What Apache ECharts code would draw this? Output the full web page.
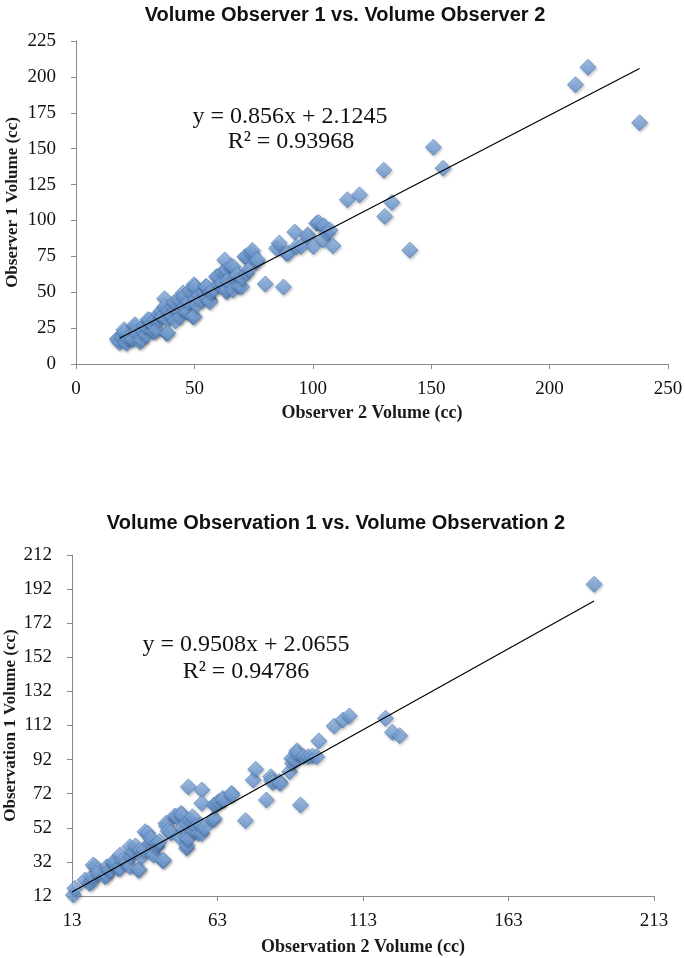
<!DOCTYPE html>
<html>
<head>
<meta charset="utf-8">
<script src="https://cdn.jsdelivr.net/npm/echarts@6/dist/echarts.min.js"></script>
<style>
html,body{margin:0;padding:0;background:#fff;}
#chart{width:685px;height:958px;}
</style>
</head>
<body>
<div id="chart"></div>
<script>
// ---------- Data ----------
var titleTop = 'Volume Observer 1 vs. Volume Observer 2';
var titleBottom = 'Volume Observation 1 vs. Volume Observation 2';
var xNameTop = 'Observer 2 Volume (cc)';
var yNameTop = 'Observer 1 Volume (cc)';
var xNameBottom = 'Observation 2 Volume (cc)';
var yNameBottom = 'Observation 1 Volume (cc)';
var eqTop = ['y = 0.856x + 2.1245', 'R\u00B2 = 0.93968'];
var eqBottom = ['y = 0.9508x + 2.0655', 'R\u00B2 = 0.94786'];

var xTicksTop = {min: 0, max: 250, interval: 50};
var yTicksTop = {min: 0, max: 225, interval: 25};
var xTicksBottom = {min: 13, max: 213, interval: 50};
var yTicksBottom = {min: 12, max: 212, interval: 20};

// [Observer 2 volume, Observer 1 volume]
var observerPoints = [
[17.5,17.6],[17.7,16.7],[18.5,15],[19.5,19],[20.3,23.9],[20.5,22],[21.2,15.8],[21.3,14.4],[22,18],[23,20],
[24,17],[24.8,26],[24.9,27.4],[25.5,22],[26.9,15.5],[27.7,16.9],[28,24],[29.7,20.2],[29,27],[30.4,30.9],
[31.1,30.6],[32.3,22.7],[32,28],[33.2,22.5],[33.5,31],[34.1,23.9],[35.3,30.6],[35,35],[36,36.7],[36.5,33],
[37.4,45.5],[37.5,40],[38.2,21.4],[38.7,30.9],[38.7,21.6],[39,37],[40,34],[41,39.9],[41.5,43],[42,30],
[43.4,44.8],[43.8,36.4],[44,33],[45.2,49.4],[45.2,37.8],[45.5,47],[46,40],[47,36],[47.5,43],[48,51],
[49.4,32.9],[49.8,55.2],[49.8,33.2],[50.1,53.8],[50.5,45],[51,41],[52.2,48],[53,44],[54,50],[54.8,54],
[55.1,53.8],[55.5,46],[56.3,44.8],[56.5,43.4],[57,50],[58,52],[59.3,60.8],[60,61],[60.5,55],[61.8,56.4],
[62,64],[62.8,72.4],[63.5,65.5],[63.5,50.3],[63.7,51.7],[64,58],[65.5,68],[66.3,67.8],[66.3,51.5],[67.3,59.8],
[68,62],[68.8,54],[69.9,53.8],[70,60],[71.3,74.7],[72,63.2],[72,74.9],[73,66],[74.1,77.1],[74.4,79.1],
[76.2,71.2],[76.6,72.6],[79.9,55.7],[84.7,80.7],[85.8,84.2],[87.6,53.6],[88.9,77.1],[89.5,77.2],[92.4,91.9],[93.1,81.7],
[95,81.9],[97.8,90],[98,88.6],[100.2,81.9],[101.6,98],[102.4,98.6],[104.4,95.6],[104.6,96.3],[104.4,86.4],[106.1,91.2],
[107.2,93.3],[108.5,82.3],[114.6,114.4],[119.7,117.8],[130,135],[130.4,102.8],[133.4,112.5],[141,79.3],[150.9,151],[155,136.4],
[210.9,194.6],[216.2,206.7],[238,168]
];
var observerTrend = [[18.4,17.9],[238,205.9]];

// [Observation 2 volume, Observation 1 volume]
var observationPoints = [
[12.2,15.5],[13.5,12.6],[12.9,13.6],[14,16.5],[17.5,21.4],[19,19.4],[19.8,20.4],[19.8,23.3],[20.3,30.2],[21,29],
[22,27.2],[22,25.3],[24.3,23.3],[24.9,24.3],[25,29.2],[26,27],[27.2,31.2],[27.3,32.1],[28.8,28.2],[29.5,28.2],
[29.5,36],[30.5,33],[31.8,32.1],[32.9,29.2],[32.9,40.9],[33.3,35.1],[34,38],[34.8,41.3],[35.8,27.2],[36,27.6],
[36.4,39],[37,35],[37.8,39],[38.1,49.7],[39,48.8],[39.8,42.9],[40,45.8],[40.5,38],[41,36],[42.1,40.9],
[42.3,42.9],[43,44],[44.2,32.7],[44.4,33.1],[45.3,54.6],[45.5,53],[46,50],[47,49],[48.3,58.9],[49,58.5],
[49.8,46.8],[50.5,60.5],[50.7,59.5],[51,52],[52.4,40],[52.5,41.5],[52.4,46.8],[52.8,45.5],[52.8,53.6],[53,76],
[53.5,56.6],[54.4,58.5],[55,50],[55.8,52.6],[56.5,48.8],[57.3,53.6],[57.6,48.7],[57.6,74.2],[57.6,66.4],[58.5,52],
[61.5,56.6],[61.8,57.6],[61.8,65.4],[62.7,65.4],[63.3,67.3],[64.8,69.3],[65,68.3],[67.8,72.2],[67.9,71.2],[72.6,56.2],
[75.3,80],[76.1,86.3],[79.8,68.3],[81.3,82],[81.6,80],[82,78.5],[84.3,79.1],[84.5,78.1],[87.8,84.9],[88.5,92.7],
[88.8,89.8],[89.6,91.8],[90.3,97.2],[90.2,96],[91.5,65.4],[92.6,93.7],[94.2,93.7],[95.6,94.1],[97.1,93.7],[97.8,102.9],
[103.1,111.7],[106.1,115.2],[108.3,117.6],[120.7,116.2],[123.1,108],[125.6,106],[192.4,194.8]
];
var observationTrend = [[13,14.4],[192.4,185]];

// ---------- Styles ----------
var serif = '"Liberation Serif", "DejaVu Serif", serif';
var sans = '"Liberation Sans", Arial, sans-serif';
var axisGray = '#8a8a8a';

var markerStyle = {
  color: new echarts.graphic.LinearGradient(0, 0, 0, 1, [
    {offset: 0, color: '#98BBE6'},
    {offset: 1, color: '#5E90D0'}
  ]),
  borderColor: '#4A7BBA',
  borderWidth: 0.8,
  shadowBlur: 3,
  shadowOffsetX: 1,
  shadowOffsetY: 1.5,
  shadowColor: 'rgba(0,0,0,0.3)'
};

function xAxisCfg(idx, ticks, name, gap, labelMargin) {
  return {
    type: 'value', gridIndex: idx,
    min: ticks.min, max: ticks.max, interval: ticks.interval,
    name: name, nameLocation: 'middle', nameGap: gap, nameMoveOverlap: false,
    nameTextStyle: {fontFamily: serif, fontWeight: 'bold', fontSize: 18, color: '#1a1a1a'},
    axisLine: {show: true, lineStyle: {color: axisGray, width: 1}},
    axisTick: {show: true, length: 5, lineStyle: {color: axisGray}},
    axisLabel: {fontFamily: serif, fontSize: 19, color: '#111', margin: labelMargin},
    splitLine: {show: false}
  };
}
function yAxisCfg(idx, ticks, name, gap, labelMargin) {
  return {
    type: 'value', gridIndex: idx,
    min: ticks.min, max: ticks.max, interval: ticks.interval,
    name: name, nameLocation: 'middle', nameGap: gap, nameRotate: 90, nameMoveOverlap: false,
    nameTextStyle: {fontFamily: serif, fontWeight: 'bold', fontSize: 17, color: '#1a1a1a'},
    axisLine: {show: true, lineStyle: {color: axisGray, width: 1}},
    axisTick: {show: true, length: 5, lineStyle: {color: axisGray}},
    axisLabel: {fontFamily: serif, fontSize: 19, color: '#111', margin: labelMargin},
    splitLine: {show: false}
  };
}

function eqText(x, y, txt) {
  return {type: 'text', x: x, y: y, z: 10,
    style: {text: txt, font: '24px ' + serif, fill: '#111', align: 'center', verticalAlign: 'middle'}};
}

var chart = echarts.init(document.getElementById('chart'), null, {renderer: 'canvas'});
var option = {
  backgroundColor: '#ffffff',
  animation: false,
  title: [
    {text: titleTop, left: 340, top: 0, textAlign: 'center',
     textStyle: {fontFamily: sans, fontWeight: 'bold', fontSize: 20, color: '#111'}},
    {text: titleBottom, left: 331, top: 508, textAlign: 'center',
     textStyle: {fontFamily: sans, fontWeight: 'bold', fontSize: 20, color: '#111'}}
  ],
  grid: [
    {left: 76, right: 17, top: 41, height: 323, containLabel: false, outerBoundsMode: 'none'},
    {left: 72, right: 31, top: 555, height: 341, containLabel: false, outerBoundsMode: 'none'}
  ],
  xAxis: [
    xAxisCfg(0, xTicksTop, xNameTop, 40, 16),
    xAxisCfg(1, xTicksBottom, xNameBottom, 42, 16)
  ],
  yAxis: [
    yAxisCfg(0, yTicksTop, yNameTop, 55, 20),
    yAxisCfg(1, yTicksBottom, yNameBottom, 53, 20)
  ],
  graphic: [
    eqText(290, 117, eqTop[0]),
    eqText(291, 142, eqTop[1]),
    eqText(246, 645, eqBottom[0]),
    eqText(246, 672, eqBottom[1])
  ],
  series: [
    {type: 'scatter', xAxisIndex: 0, yAxisIndex: 0, symbol: 'diamond', symbolSize: 16,
     itemStyle: markerStyle, data: observerPoints, z: 2},
    {type: 'line', xAxisIndex: 0, yAxisIndex: 0, data: observerTrend, symbol: 'none',
     lineStyle: {color: '#000', width: 1.2}, z: 3, silent: true},
    {type: 'scatter', xAxisIndex: 1, yAxisIndex: 1, symbol: 'diamond', symbolSize: 16,
     itemStyle: markerStyle, data: observationPoints, z: 2},
    {type: 'line', xAxisIndex: 1, yAxisIndex: 1, data: observationTrend, symbol: 'none',
     lineStyle: {color: '#000', width: 1.2}, z: 3, silent: true}
  ]
};
chart.setOption(option);
</script>
</body>
</html>
